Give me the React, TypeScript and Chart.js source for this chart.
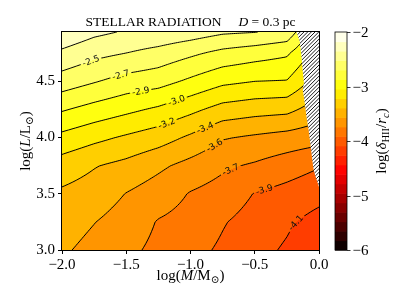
import React, { useEffect, useRef } from 'react';
import { Chart, registerables } from 'chart.js';

Chart.register(...registerables);

// ---- data ----
const massGrid = [-2, -1.75, -1.5, -1.25, -1.0, -0.75, -0.5, -0.25, 0];
const lumGrid = [3.0, 3.25, 3.5, 3.75, 4.0, 4.25, 4.5, 4.75, 5.0];
// log(delta_HII / r_c), one row per luminosity, one column per mass
const deltaL300 = [-3.54, -3.62, -3.70, -3.78, -3.86, -3.94, -4.03, -4.11, -4.24];
const deltaL325 = [-3.48, -3.56, -3.64, -3.75, -3.80, -3.90, -3.98, -4.06, -4.15];
const deltaL350 = [-3.42, -3.47, -3.57, -3.65, -3.75, -3.81, -3.92, -3.97, -4.03];
const deltaL375 = [-3.30, -3.38, -3.44, -3.53, -3.62, -3.71, -3.76, -3.83, -3.90];
const deltaL400 = [-3.09, -3.17, -3.24, -3.31, -3.42, -3.55, -3.59, -3.63, -3.67];
const deltaL425 = [-2.85, -2.93, -3.00, -3.07, -3.17, -3.28, -3.32, -3.34, -3.48];
const deltaL450 = [-2.60, -2.68, -2.76, -2.80, -2.90, -3.00, -3.04, -3.05, -3.30];
const deltaL475 = [-2.38, -2.47, -2.52, -2.58, -2.66, -2.74, -2.79, -2.84, -3.12];
const deltaL500 = [-2.15, -2.25, -2.31, -2.32, -2.35, -2.41, -2.42, -2.48, -2.97];
const deltaTable = [deltaL300, deltaL325, deltaL350, deltaL375, deltaL400, deltaL425, deltaL450, deltaL475, deltaL500];

const levels = [
  -6, -5.826087, -5.652174, -5.478261, -5.304348, -5.130435, -4.956522, -4.782609,
  -4.608696, -4.43478, -4.26087, -4.086957, -3.913043, -3.73913, -3.565217, -3.391304,
  -3.217391, -3.043478, -2.869565, -2.695652, -2.521739, -2.347826, -2.173913, -2,
];

const labelLevelIdx = [20, 19, 18, 17, 16, 15, 14, 13, 12, 11];
const labelTexts = ['-2.5', '-2.7', '-2.9', '-3.0', '-3.2', '-3.4', '-3.6', '-3.7', '-3.9', '-4.1'];
const labelMass = [-1.79, -1.556, -1.393, -1.12, -1.198, -0.887, -0.822, -0.693, -0.433, -0.148];
const labelLum = [4.72, 4.578, 4.406, 4.36, 4.155, 4.08, 3.947, 3.74, 3.548, 3.207];

const hatchMass = [-0.175, -0.15, -0.135, -0.127, -0.117, -0.127, -0.109, -0.096, -0.083, -0.07, -0.057, -0.044, -0.031, 0];
const hatchLum = [4.935, 4.853, 4.705, 4.59, 4.483, 4.424, 4.29, 4.172, 4.083, 3.968, 3.846, 3.728, 3.669, 3.56];

const xTicks = [-2, -1.5, -1, -0.5, 0];
const yTicks = [3, 3.5, 4, 4.5];
const cbTicks = [-6, -5, -4, -3, -2];

const X_MIN = -2;
const X_MAX = 0;
const Y_MIN = 3;
const Y_MAX = 4.935;

const SERIF = '"Liberation Serif", "DejaVu Serif", serif';

function field(m: number, l: number): number {
  const nx = massGrid.length;
  const ny = lumGrid.length;
  let i = 0;
  while (i < nx - 2 && m > massGrid[i + 1]) i++;
  let j = 0;
  while (j < ny - 2 && l > lumGrid[j + 1]) j++;
  const tx = (m - massGrid[i]) / (massGrid[i + 1] - massGrid[i]);
  const ty = (l - lumGrid[j]) / (lumGrid[j + 1] - lumGrid[j]);
  const r0 = deltaTable[j];
  const r1 = deltaTable[j + 1];
  const a = r0[i] * (1 - tx) + r0[i + 1] * tx;
  const b = r1[i] * (1 - tx) + r1[i + 1] * tx;
  return a * (1 - ty) + b * ty;
}

function hot(t: number): [number, number, number] {
  const cl = (v: number) => Math.max(0, Math.min(1, v));
  const r = cl(t / 0.365079);
  const g = cl((t - 0.365079) / 0.380953);
  const b = cl((t - 0.746032) / 0.253968);
  return [Math.round(r * 255), Math.round(g * 255), Math.round(b * 255)];
}

const lo = levels[0];
const hi = levels[levels.length - 1];
const bandColors = levels.slice(0, -1).map((v, k) => hot(((v + levels[k + 1]) / 2 - lo) / (hi - lo)));

function bandIndex(v: number): number {
  let k = 0;
  while (k < levels.length - 2 && v >= levels[k + 1]) k++;
  return k;
}

type Piece = { t: string; it?: boolean; sub?: boolean };

function drawRich(ctx: CanvasRenderingContext2D, pieces: Piece[], x: number, y: number, size: number) {
  const fontFor = (p: Piece) => `${p.it ? 'italic ' : ''}${p.sub ? size * 0.7 : size}px ${SERIF}`;
  const widths = pieces.map((p) => {
    ctx.font = fontFor(p);
    return ctx.measureText(p.t).width;
  });
  const total = widths.reduce((a, b) => a + b, 0);
  let cx = x - total / 2;
  ctx.textAlign = 'left';
  ctx.textBaseline = 'alphabetic';
  pieces.forEach((p, k) => {
    ctx.font = fontFor(p);
    ctx.fillText(p.t, cx, y + (p.sub ? size * 0.22 : 0));
    cx += widths[k];
  });
}

const fmt = (v: number) => (v < 0 ? '\u2212' : '') + Math.abs(v).toFixed(1);

const contourPlugin = {
  id: 'contourField',
  beforeDatasetsDraw(chart: any) {
    const { ctx, chartArea: ca, scales } = chart;
    const xs = scales.x;
    const ys = scales.y;
    const L = Math.round(ca.left);
    const T = Math.round(ca.top);
    const W = Math.round(ca.right) - L;
    const H = Math.round(ca.bottom) - T;

    // filled bands
    const img = ctx.createImageData(W, H);
    const mCols: number[] = [];
    for (let px = 0; px < W; px++) mCols.push(xs.getValueForPixel(L + px + 0.5));
    for (let py = 0; py < H; py++) {
      const l = ys.getValueForPixel(T + py + 0.5);
      for (let px = 0; px < W; px++) {
        const c = bandColors[bandIndex(field(mCols[px], l))];
        const o = (py * W + px) * 4;
        img.data[o] = c[0];
        img.data[o + 1] = c[1];
        img.data[o + 2] = c[2];
        img.data[o + 3] = 255;
      }
    }
    ctx.putImageData(img, L, T);

    // contour lines (marching squares in pixel space)
    const nX = Math.ceil(W / 2);
    const nY = Math.ceil(H / 2);
    const nodeX: number[] = [];
    const nodeY: number[] = [];
    for (let k = 0; k <= nX; k++) nodeX.push(ca.left + (k * (ca.right - ca.left)) / nX);
    for (let q = 0; q <= nY; q++) nodeY.push(ca.top + (q * (ca.bottom - ca.top)) / nY);
    const nodeM = nodeX.map((x) => xs.getValueForPixel(x));
    const V = nodeY.map((y) => {
      const l = ys.getValueForPixel(y);
      return nodeM.map((m) => field(m, l));
    });
    const segs: number[][][] = levels.map(() => []);
    for (let li = 1; li < levels.length - 1; li++) {
      const c = levels[li];
      for (let q = 0; q < nY; q++) {
        for (let k = 0; k < nX; k++) {
          const v00 = V[q][k], v10 = V[q][k + 1], v11 = V[q + 1][k + 1], v01 = V[q + 1][k];
          const pts: number[][] = [];
          const edge = (xa: number, ya: number, va: number, xb: number, yb: number, vb: number) => {
            if ((va < c) !== (vb < c)) {
              const t = (c - va) / (vb - va);
              pts.push([xa + (xb - xa) * t, ya + (yb - ya) * t]);
            }
          };
          const x0 = nodeX[k], x1 = nodeX[k + 1], y0 = nodeY[q], y1 = nodeY[q + 1];
          edge(x0, y0, v00, x1, y0, v10);
          edge(x1, y0, v10, x1, y1, v11);
          edge(x1, y1, v11, x0, y1, v01);
          edge(x0, y1, v01, x0, y0, v00);
          if (pts.length >= 2) segs[li].push([pts[0][0], pts[0][1], pts[1][0], pts[1][1]]);
          if (pts.length === 4) segs[li].push([pts[2][0], pts[2][1], pts[3][0], pts[3][1]]);
        }
      }
    }

    // label placement
    ctx.font = `9px "DejaVu Sans", sans-serif`;
    const labels: { x: number; y: number; a: number; w: number; text: string }[] = [];
    labelLevelIdx.forEach((li, n) => {
      const tx = xs.getPixelForValue(labelMass[n]);
      const ty = ys.getPixelForValue(labelLum[n]);
      let best: number[] | null = null;
      let bd = Infinity;
      for (const s of segs[li]) {
        const mx = (s[0] + s[2]) / 2, my = (s[1] + s[3]) / 2;
        const d = (mx - tx) ** 2 + (my - ty) ** 2;
        if (d < bd) { bd = d; best = [mx, my]; }
      }
      if (!best) return;
      const [px, py] = best;
      const fm = (x: number, y: number) => field(xs.getValueForPixel(x), ys.getValueForPixel(y));
      const gx = fm(px + 2, py) - fm(px - 2, py);
      const gy = fm(px, py + 2) - fm(px, py - 2);
      let a = Math.atan2(gx, -gy);
      if (a > Math.PI / 2) a -= Math.PI;
      if (a < -Math.PI / 2) a += Math.PI;
      labels.push({ x: px, y: py, a, w: ctx.measureText(labelTexts[n]).width, text: labelTexts[n] });
    });

    ctx.save();
    ctx.beginPath();
    ctx.rect(ca.left, ca.top, ca.right - ca.left, ca.bottom - ca.top);
    for (const lb of labels) {
      const hw = lb.w / 2 + 2;
      const hh = 4.5;
      const cs = Math.cos(lb.a), sn = Math.sin(lb.a);
      const corners = [[-hw, -hh], [hw, -hh], [hw, hh], [-hw, hh]].map(([u, v]) => [lb.x + u * cs - v * sn, lb.y + u * sn + v * cs]);
      ctx.moveTo(corners[0][0], corners[0][1]);
      for (let k = 1; k < 4; k++) ctx.lineTo(corners[k][0], corners[k][1]);
      ctx.closePath();
    }
    ctx.clip('evenodd');
    ctx.strokeStyle = '#000';
    ctx.lineWidth = 1;
    ctx.beginPath();
    for (let li = 1; li < levels.length - 1; li++) {
      for (const s of segs[li]) {
        ctx.moveTo(s[0], s[1]);
        ctx.lineTo(s[2], s[3]);
      }
    }
    ctx.stroke();
    ctx.restore();

    ctx.save();
    ctx.fillStyle = '#111';
    ctx.font = `9px "DejaVu Sans", sans-serif`;
    ctx.textAlign = 'center';
    ctx.textBaseline = 'middle';
    for (const lb of labels) {
      ctx.save();
      ctx.translate(lb.x, lb.y);
      ctx.rotate(lb.a);
      ctx.fillText(lb.text, 0, 0.5);
      ctx.restore();
    }
    ctx.restore();

    // hatched (no data) region
    const hp = hatchMass.map((m, k) => [xs.getPixelForValue(m), ys.getPixelForValue(hatchLum[k])]);
    hp.push([xs.getPixelForValue(X_MAX), ys.getPixelForValue(Y_MAX)]);
    ctx.save();
    ctx.beginPath();
    ctx.moveTo(hp[0][0], hp[0][1]);
    for (let k = 1; k < hp.length; k++) ctx.lineTo(hp[k][0], hp[k][1]);
    ctx.closePath();
    ctx.fillStyle = '#fff';
    ctx.fill();
    ctx.clip();
    const minX = Math.min(...hp.map((p) => p[0]));
    const maxX = Math.max(...hp.map((p) => p[0]));
    const topY = Math.min(...hp.map((p) => p[1]));
    const botY = Math.max(...hp.map((p) => p[1]));
    const span = botY - topY;
    ctx.strokeStyle = '#000';
    ctx.lineWidth = 0.9;
    ctx.beginPath();
    for (let s = minX - span; s < maxX + 4; s += 3.7) {
      ctx.moveTo(s, botY);
      ctx.lineTo(s + span, topY);
    }
    ctx.stroke();
    ctx.restore();
  },
  afterDraw(chart: any) {
    const { ctx, chartArea: ca, scales } = chart;
    const cb = scales.cb;
    ctx.save();
    // frame
    ctx.strokeStyle = '#000';
    ctx.lineWidth = 1;
    ctx.strokeRect(ca.left - 0.5, ca.top - 0.5, ca.right - ca.left + 1, ca.bottom - ca.top + 1);

    // colorbar
    const cbL = ca.right + 16;
    const cbW = 12;
    for (let k = 0; k < levels.length - 1; k++) {
      const y0 = cb.getPixelForValue(levels[k]);
      const y1 = cb.getPixelForValue(levels[k + 1]);
      const c = bandColors[k];
      ctx.fillStyle = `rgb(${c[0]},${c[1]},${c[2]})`;
      ctx.fillRect(cbL, y1, cbW, y0 - y1 + 0.6);
    }
    const cTop = cb.getPixelForValue(hi);
    const cBot = cb.getPixelForValue(lo);
    ctx.lineWidth = 0.8;
    ctx.strokeStyle = '#000';
    ctx.strokeRect(cbL, cTop, cbW, cBot - cTop);
    ctx.fillStyle = '#000';
    ctx.font = `15px ${SERIF}`;
    ctx.textAlign = 'left';
    ctx.textBaseline = 'middle';
    ctx.beginPath();
    for (const v of cbTicks) {
      const y = Math.round(cb.getPixelForValue(v)) + 0.5;
      ctx.moveTo(cbL + cbW, y);
      ctx.lineTo(cbL + cbW + 3.5, y);
      ctx.fillText('\u2212' + Math.abs(v).toString(), cbL + cbW + 5.5, y + 0.5);
    }
    ctx.stroke();

    // colorbar label
    ctx.save();
    ctx.translate(386, (cTop + cBot) / 2);
    ctx.rotate(-Math.PI / 2);
    drawRich(ctx, [{ t: 'log(' }, { t: '\u03b4', it: true }, { t: 'HII', sub: true }, { t: '/' }, { t: 'r', it: true }, { t: 'c', it: true, sub: true }, { t: ')' }], 0, 0, 15);
    ctx.restore();

    // axis titles
    const cx = (ca.left + ca.right) / 2;
    const cy = (ca.top + ca.bottom) / 2;
    drawRich(ctx, [{ t: 'log(' }, { t: 'M', it: true }, { t: '/M' }, { t: '\u2299', sub: true }, { t: ')' }], cx, 280, 15);
    ctx.save();
    ctx.translate(30, cy);
    ctx.rotate(-Math.PI / 2);
    drawRich(ctx, [{ t: 'log(' }, { t: 'L', it: true }, { t: '/L' }, { t: '\u2299', sub: true }, { t: ')' }], 0, 0, 15);
    ctx.restore();

    // title
    drawRich(ctx, [{ t: 'STELLAR RADIATION' }, { t: '     ' }, { t: 'D', it: true }, { t: ' = 0.3 pc' }], cx, 26, 13.5);
    ctx.restore();
  },
};

export default function App() {
  const ref = useRef<HTMLCanvasElement>(null);
  useEffect(() => {
    document.body.style.margin = '0';
    const chart = new Chart(ref.current as HTMLCanvasElement, {
      type: 'scatter',
      data: { datasets: [{ data: [] }] },
      plugins: [contourPlugin],
      options: {
        animation: false,
        responsive: false,
        devicePixelRatio: 1,
        layout: { padding: { top: 32, right: 92, left: 0, bottom: 0 } },
        plugins: { legend: { display: false }, tooltip: { enabled: false }, title: { display: false } },
        scales: {
          x: {
            type: 'linear',
            min: X_MIN,
            max: X_MAX,
            afterBuildTicks: (s: any) => { s.ticks = xTicks.map((v) => ({ value: v })); },
            afterFit: (s: any) => { s.height = 58; },
            ticks: { callback: (v: any) => fmt(Number(v)), color: '#000', font: { family: SERIF, size: 15 }, padding: 2, maxRotation: 0, autoSkip: false },
            grid: { drawOnChartArea: false, drawTicks: true, tickLength: 4, color: '#000', lineWidth: 1 },
            border: { display: false },
          },
          y: {
            type: 'linear',
            min: Y_MIN,
            max: Y_MAX,
            afterBuildTicks: (s: any) => { s.ticks = yTicks.map((v) => ({ value: v })); },
            afterFit: (s: any) => { s.width = 62; },
            ticks: { callback: (v: any) => fmt(Number(v)), color: '#000', font: { family: SERIF, size: 15 }, padding: 3, autoSkip: false },
            grid: { drawOnChartArea: false, drawTicks: true, tickLength: 4, color: '#000', lineWidth: 1 },
            border: { display: false },
          },
          cb: {
            type: 'linear',
            position: 'right',
            display: false,
            min: -6,
            max: -2,
          },
        },
      } as any,
    });
    return () => chart.destroy();
  }, []);
  return (
    <div style={{ position: 'absolute', left: 0, top: 0, width: 411, height: 308, background: '#fff' }}>
      <canvas ref={ref} width={411} height={308} style={{ width: 411, height: 308, display: 'block' }} />
    </div>
  );
}
